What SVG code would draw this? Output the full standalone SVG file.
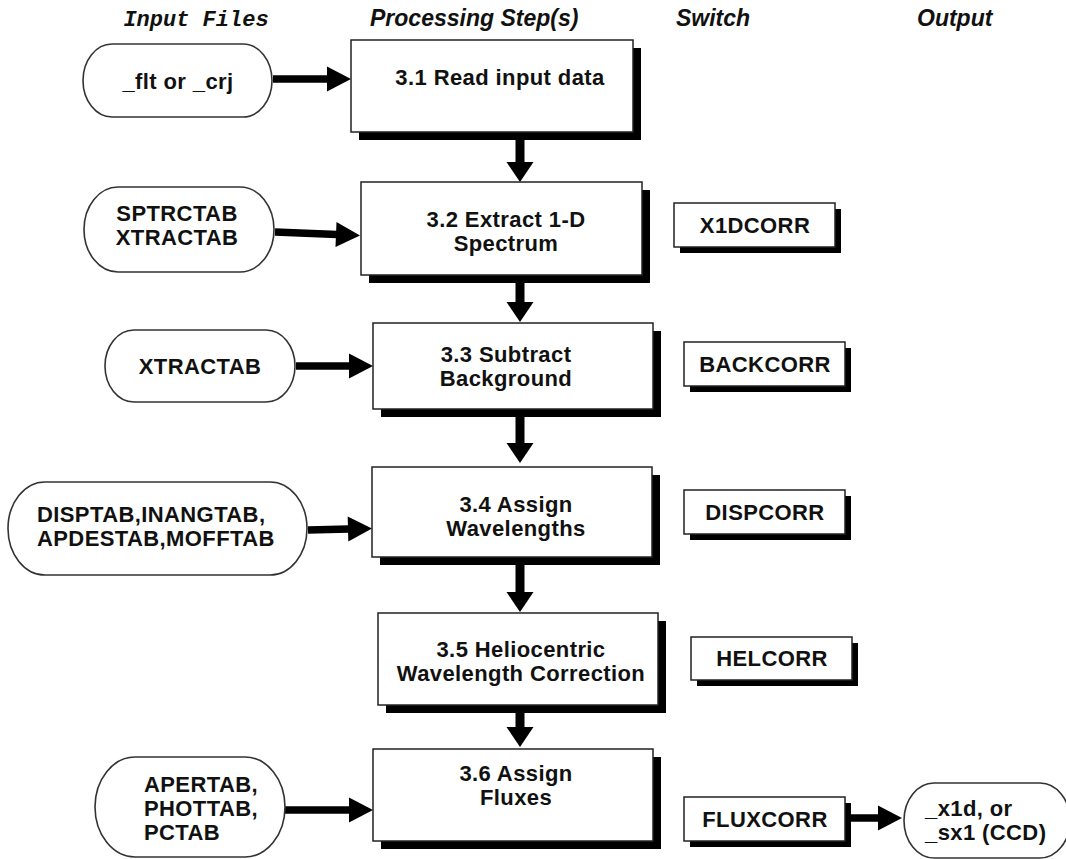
<svg xmlns="http://www.w3.org/2000/svg" width="1066" height="859" viewBox="0 0 1066 859">
<style>
.hdr{font-family:"Liberation Sans",Arial,sans-serif;font-weight:bold;font-style:italic;font-size:23px;fill:#111}
.mono{font-family:"Liberation Mono","Courier New",monospace;font-weight:bold;font-style:italic;font-size:22px;fill:#111}
.t{font-family:"Liberation Sans",Arial,sans-serif;font-weight:bold;font-size:22px;letter-spacing:0.4px;fill:#111}
.c{text-anchor:middle}
.box{fill:#fff;stroke:#222;stroke-width:1.5}
.shadow{fill:#000}
.pill{fill:#fff;stroke:#333;stroke-width:1.6}
.vline{stroke:#000;stroke-width:9;fill:none}
.hline{stroke:#000;stroke-width:7.5;fill:none}
</style>
<defs>
<marker id="vhead" markerUnits="userSpaceOnUse" markerWidth="24" markerHeight="30" refX="1" refY="0" viewBox="0 -15 24 30" orient="auto" overflow="visible">
<path d="M0,-13.5 L20,0 L0,13.5 Z" fill="#000"/>
</marker>
<marker id="hhead" markerUnits="userSpaceOnUse" markerWidth="28" markerHeight="28" refX="1" refY="0" viewBox="0 -14 28 28" orient="auto" overflow="visible">
<path d="M0,-12.5 L24,0 L0,12.5 Z" fill="#000"/>
</marker>
</defs>

<g id="headers">
<text class="mono c" x="196" y="26">Input Files</text>
<text class="hdr" x="370" y="26">Processing Step(s)</text>
<text class="hdr" x="676" y="26">Switch</text>
<text class="hdr" x="917" y="26">Output</text>
</g>

<g id="connectors">
<line class="vline" x1="520" y1="132" x2="520" y2="163" marker-end="url(#vhead)"/>
<line class="vline" x1="520" y1="275" x2="520" y2="303" marker-end="url(#vhead)"/>
<line class="vline" x1="520" y1="409" x2="520" y2="444" marker-end="url(#vhead)"/>
<line class="vline" x1="520" y1="557" x2="520" y2="593" marker-end="url(#vhead)"/>
<line class="vline" x1="520" y1="705" x2="520" y2="728" marker-end="url(#vhead)"/>
<line class="hline" x1="273" y1="79" x2="328" y2="79" marker-end="url(#hhead)"/>
<line class="hline" x1="275" y1="232" x2="337" y2="234.5" marker-end="url(#hhead)"/>
<line class="hline" x1="296" y1="366" x2="350" y2="366" marker-end="url(#hhead)"/>
<line class="hline" x1="308" y1="530" x2="349" y2="529" marker-end="url(#hhead)"/>
<line class="hline" x1="285" y1="810" x2="350" y2="810" marker-end="url(#hhead)"/>
<line class="hline" x1="851" y1="818" x2="879" y2="818" marker-end="url(#hhead)"/>
</g>

<g id="in1">
<rect class="pill" x="83" y="44" width="189" height="73" rx="29" ry="36.5"/>
<text class="t c" x="178" y="89">_flt or _crj</text>
</g>
<g id="in2">
<rect class="pill" x="84" y="187" width="190" height="85" rx="34" ry="42.5"/>
<text class="t c" x="177" y="221">SPTRCTAB</text>
<text class="t c" x="177" y="245">XTRACTAB</text>
</g>
<g id="in3">
<rect class="pill" x="105" y="330" width="190" height="72" rx="29" ry="36"/>
<text class="t c" x="200" y="374">XTRACTAB</text>
</g>
<g id="in4">
<rect class="pill" x="8" y="482" width="299" height="93" rx="37" ry="46.5"/>
<text class="t" x="37" y="522">DISPTAB,INANGTAB,</text>
<text class="t" x="37" y="546">APDESTAB,MOFFTAB</text>
</g>
<g id="in5">
<rect class="pill" x="95" y="757" width="190" height="100" rx="40" ry="50"/>
<text class="t" x="144" y="792">APERTAB,</text>
<text class="t" x="144" y="816">PHOTTAB,</text>
<text class="t" x="144" y="840">PCTAB</text>
</g>

<g id="step31">
<rect class="shadow" x="359" y="48" width="282" height="92"/>
<rect class="box" x="351" y="40" width="282" height="92"/>
<text class="t c" x="500" y="85">3.1 Read input data</text>
</g>
<g id="step32">
<rect class="shadow" x="369" y="190" width="281" height="93"/>
<rect class="box" x="361" y="182" width="281" height="93"/>
<text class="t c" x="506" y="227">3.2 Extract 1-D</text>
<text class="t c" x="506" y="251">Spectrum</text>
</g>
<g id="step33">
<rect class="shadow" x="381" y="331" width="280" height="86"/>
<rect class="box" x="373" y="323" width="280" height="86"/>
<text class="t c" x="506" y="362">3.3 Subtract</text>
<text class="t c" x="506" y="386">Background</text>
</g>
<g id="step34">
<rect class="shadow" x="380" y="475" width="280" height="90"/>
<rect class="box" x="372" y="467" width="280" height="90"/>
<text class="t c" x="516" y="512">3.4 Assign</text>
<text class="t c" x="516" y="536">Wavelengths</text>
</g>
<g id="step35">
<rect class="shadow" x="386" y="621" width="280" height="92"/>
<rect class="box" x="378" y="613" width="280" height="92"/>
<text class="t c" x="521" y="657">3.5 Heliocentric</text>
<text class="t c" x="521" y="681">Wavelength Correction</text>
</g>
<g id="step36">
<rect class="shadow" x="381" y="757" width="280" height="92"/>
<rect class="box" x="373" y="749" width="280" height="92"/>
<text class="t c" x="516" y="781">3.6 Assign</text>
<text class="t c" x="516" y="805">Fluxes</text>
</g>

<g id="sw1">
<rect class="shadow" x="680" y="209" width="161" height="44"/>
<rect class="box" x="674" y="203" width="161" height="44"/>
<text class="t c" x="755" y="233">X1DCORR</text>
</g>
<g id="sw2">
<rect class="shadow" x="690" y="348" width="161" height="44"/>
<rect class="box" x="684" y="342" width="161" height="44"/>
<text class="t c" x="765" y="372">BACKCORR</text>
</g>
<g id="sw3">
<rect class="shadow" x="690" y="496" width="161" height="44"/>
<rect class="box" x="684" y="490" width="161" height="44"/>
<text class="t c" x="765" y="520">DISPCORR</text>
</g>
<g id="sw4">
<rect class="shadow" x="697" y="643" width="161" height="43"/>
<rect class="box" x="691" y="637" width="161" height="43"/>
<text class="t c" x="772" y="666">HELCORR</text>
</g>
<g id="sw5">
<rect class="shadow" x="690" y="803" width="161" height="44"/>
<rect class="box" x="684" y="797" width="161" height="44"/>
<text class="t c" x="765" y="827">FLUXCORR</text>
</g>

<g id="out">
<rect class="pill" x="904" y="783" width="166" height="75" rx="30" ry="37.5"/>
<text class="t" x="925" y="816">_x1d, or</text>
<text class="t" x="925" y="840">_sx1 (CCD)</text>
</g>
</svg>
